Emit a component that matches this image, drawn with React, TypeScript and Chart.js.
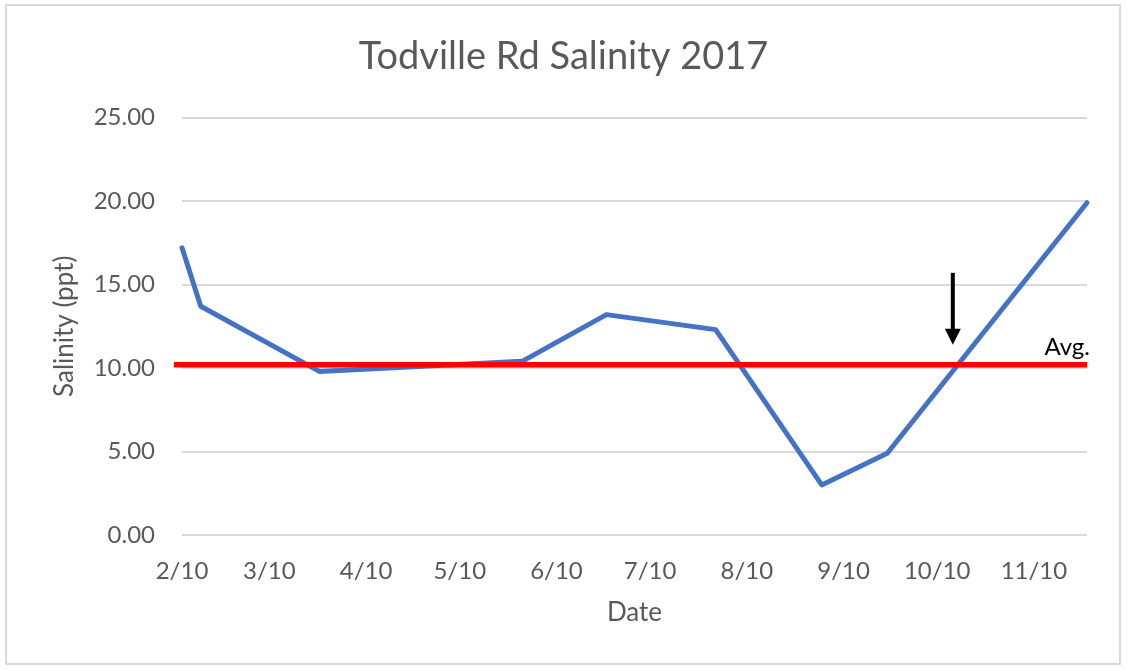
import React, { useEffect, useRef } from "react";
import { Chart, registerables } from "chart.js";

Chart.register(...registerables);

// ---- data ----
const START_DATE = "2017-02-10";
const sampleDates = ["2017-02-10", "2017-02-16", "2017-03-26", "2017-05-30", "2017-06-26", "2017-07-31", "2017-09-03", "2017-09-24", "2017-11-27"];
const salinity = [17.2, 13.7, 9.8, 10.4, 13.2, 12.3, 3.0, 4.9, 19.9];
const tickDates = ["2017-02-10", "2017-03-10", "2017-04-10", "2017-05-10", "2017-06-10", "2017-07-10", "2017-08-10", "2017-09-10", "2017-10-10", "2017-11-10"];
const tickLabels = ["2/10", "3/10", "4/10", "5/10", "6/10", "7/10", "8/10", "9/10", "10/10", "11/10"];
const yTicks = [0, 5, 10, 15, 20, 25];
const avgValue = 10.2;
const avgLabel = "Avg.";
const arrowDate = "2017-10-15";
const arrowFrom = 15.7;
const arrowTo = 11.4;

const dayOf = (d: string) => (Date.parse(d + "T00:00:00Z") - Date.parse(START_DATE + "T00:00:00Z")) / 86400000;

const FONT = "Lato, 'Open Sans', sans-serif";
const GREY = "#595959";

const annotPlugin = {
  id: "annot",
  afterDatasetsDraw(chart: any) {
    const { ctx, scales, chartArea } = chart;
    const x = scales.x.getPixelForValue(dayOf(arrowDate));
    const y1 = scales.y.getPixelForValue(arrowFrom);
    const y2 = scales.y.getPixelForValue(arrowTo);
    ctx.save();
    ctx.strokeStyle = "#000";
    ctx.fillStyle = "#000";
    ctx.lineWidth = 4;
    ctx.beginPath();
    ctx.moveTo(x, y1);
    ctx.lineTo(x, y2 - 12);
    ctx.stroke();
    ctx.beginPath();
    ctx.moveTo(x - 8, y2 - 16);
    ctx.lineTo(x + 8, y2 - 16);
    ctx.lineTo(x, y2);
    ctx.closePath();
    ctx.fill();
    ctx.font = `24px ${FONT}`;
    ctx.textAlign = "right";
    ctx.textBaseline = "middle";
    ctx.fillStyle = "#000";
    ctx.fillText(avgLabel, chartArea.right + 3, scales.y.getPixelForValue(avgValue) - 17);
    ctx.restore();
  },
};

export default function App() {
  const ref = useRef<HTMLCanvasElement | null>(null);
  useEffect(() => {
    if (!ref.current) return;
    const xMax = dayOf(sampleDates[sampleDates.length - 1]);
    const chart = new Chart(ref.current, {
      type: "line",
      data: {
        datasets: [
          {
            label: "Avg",
            data: [
              { x: -2.6, y: avgValue },
              { x: xMax, y: avgValue },
            ],
            borderColor: "#FF0000",
            borderWidth: 5.5,
            pointRadius: 0,
            clip: false as any,
          },
          {
            label: "Salinity",
            data: sampleDates.map((d, i) => ({ x: dayOf(d), y: salinity[i] })),
            borderColor: "#4472C4",
            borderWidth: 5,
            pointRadius: 0,
            tension: 0,
            borderJoinStyle: "round",
            borderCapStyle: "round",
            clip: false as any,
          },
        ],
      },
      options: {
        responsive: false,
        animation: false,
        events: [],
        layout: { padding: { left: 40, right: 40, top: 0, bottom: 0 } },
        plugins: {
          legend: { display: false },
          tooltip: { enabled: false },
          title: {
            display: true,
            text: "Todville Rd Salinity 2017",
            color: GREY,
            font: { family: FONT, size: 38, weight: "normal" },
            padding: { top: 34, bottom: 38 },
          },
        },
        scales: {
          x: {
            type: "linear",
            min: 0,
            max: xMax,
            afterBuildTicks: (scale: any) => {
              scale.ticks = tickDates.map((d) => ({ value: dayOf(d) }));
            },
            afterFit: (scale: any) => {
              scale.height = 670 - 535;
            },
            grid: { display: false, drawTicks: false },
            border: { display: false },
            ticks: {
              autoSkip: false,
              maxRotation: 0,
              padding: 22,
              color: GREY,
              font: { family: FONT, size: 24 },
              callback: (_v: any, i: number) => tickLabels[i],
            },
            title: {
              display: true,
              text: "Date",
              color: GREY,
              font: { family: FONT, size: 26 },
              padding: { top: 0, bottom: 42 },
            },
          },
          y: {
            min: 0,
            max: 25,
            afterBuildTicks: (scale: any) => {
              scale.ticks = yTicks.map((v) => ({ value: v }));
            },
            afterFit: (scale: any) => {
              scale.width = 142;
            },
            grid: { color: "#d9d9d9", lineWidth: 2, drawTicks: false },
            border: { display: false },
            ticks: {
              padding: 27,
              color: GREY,
              font: { family: FONT, size: 24 },
              callback: (v: any) => Number(v).toFixed(2),
            },
            title: {
              display: true,
              text: "Salinity (ppt)",
              color: GREY,
              font: { family: FONT, size: 26 },
              padding: { top: 9, bottom: 0 },
            },
          },
        },
      },
      plugins: [annotPlugin],
    } as any);
    return () => chart.destroy();
  }, []);

  return (
    <div style={{ position: "fixed", left: 0, top: 0, width: 1127, height: 670, background: "#fff" }}>
      <div
        style={{
          position: "absolute",
          left: 5,
          top: 4,
          width: 1116,
          height: 661,
          border: "2px solid #d9d9d9",
          boxSizing: "border-box",
        }}
      />
      <canvas ref={ref} width={1127} height={670} style={{ position: "absolute", left: 0, top: 0 }} />
    </div>
  );
}
